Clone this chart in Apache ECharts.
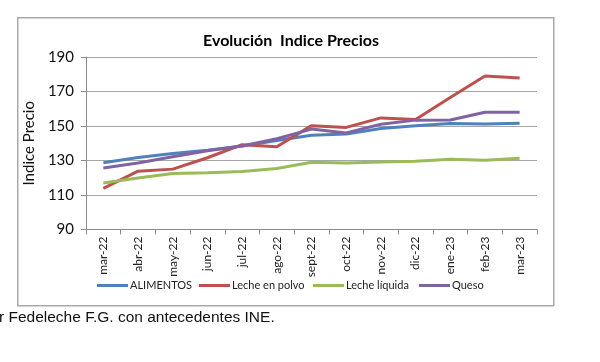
<!DOCTYPE html>
<html>
<head>
<meta charset="utf-8">
<script src="https://cdn.jsdelivr.net/npm/echarts@6/dist/echarts.min.js"></script>
<style>html,body{margin:0;padding:0;background:#fff;}#c{width:600px;height:362px;}</style>
</head>
<body>
<div id="c"></div>
<script>
var categories = ['mar-22','abr-22','may-22','jun-22','jul-22','ago-22','sept-22','oct-22','nov-22','dic-22','ene-23','feb-23','mar-23'];
var alimentos = [128.7,131.7,134.0,136.0,138.4,141.6,144.7,145.3,148.6,150.1,151.4,151.1,151.6];
var lechePolvo = [113.8,123.8,125.0,131.6,139.2,138.0,150.2,149.2,154.7,153.8,166.5,179.0,177.8];
var lecheLiquida = [117.0,119.8,122.5,122.9,123.6,125.4,129.0,128.6,129.2,129.6,130.7,130.2,131.3];
var queso = [125.7,128.6,132.2,135.7,138.4,142.6,148.2,146.0,151.0,153.4,153.5,158.0,158.0];
var yTicks = [90,110,130,150,170,190];

var names = ['ALIMENTOS','Leche en polvo','Leche líquida','Queso'];
var colors = ['#4F81BD','#C0504D','#9BBB59','#8064A2'];
var dataSets = [alimentos, lechePolvo, lecheLiquida, queso];
var legendLeft = [97, 199, 313, 419];
var font = 'Lato, "Open Sans", sans-serif';

var chart = echarts.init(document.getElementById('c'), null, {renderer:'canvas'});
var option = {
  backgroundColor: '#fff',
  animation: false,
  title: {
    text: 'Evolución  Indice Precios',
    left: 286, top: 28, textAlign: 'center',
    textStyle: {fontFamily: font, fontSize: 16, fontWeight: 'bold', color: '#000'}
  },
  legend: names.map(function(n, i){
    return {
      data: [n], left: legendLeft[i], top: 280, padding: 0,
      itemWidth: 31, itemHeight: 3, itemGap: 0,
      icon: 'rect',
      textStyle: {fontFamily: font, fontSize: 11, color: '#222', padding:[0,0,0,-3]}
    };
  }),
  grid: {left: 86, right: 63, top: 57, bottom: 132.5, containLabel: false},
  xAxis: {
    type: 'category', data: categories, boundaryGap: true,
    axisLine: {lineStyle: {color: '#8c8c8c', width: 1}},
    axisTick: {show: true, length: 5, lineStyle: {color: '#8c8c8c'}},
    axisLabel: {rotate: 90, fontFamily: font, fontSize: 12, color: '#222', margin: 7}
  },
  yAxis: {
    type: 'value', min: 90, max: 190, interval: 20,
    name: 'Indice Precio', nameLocation: 'middle', nameGap: 45, nameRotate: 90,
    nameTextStyle: {fontFamily: font, fontSize: 15, color: '#111'},
    axisLine: {show: true, lineStyle: {color: '#8c8c8c'}},
    axisTick: {show: true, length: 5, lineStyle: {color: '#8c8c8c'}},
    axisLabel: {fontFamily: font, fontSize: 15, color: '#111', margin: 12,
      formatter: function(v){ return yTicks.indexOf(v) >= 0 ? String(v) : ''; }},
    splitLine: {lineStyle: {color: '#a6a6a6', width: 1}}
  },
  series: dataSets.map(function(d, i){
    return {
      name: names[i], type: 'line', data: d, showSymbol: false, symbol: 'none',
      lineStyle: {color: colors[i], width: 3}, itemStyle: {color: colors[i]}
    };
  }),
  graphic: {
    elements: [
      {type: 'rect', left: 17, top: 17, z: 100, silent: true,
       shape: {width: 536, height: 288},
       style: {fill: 'rgba(0,0,0,0)', stroke: '#a9a9a9', lineWidth: 1.5}},
      {type: 'text', left: -1, top: 310,
       style: {text: 'r Fedeleche F.G. con antecedentes INE.', fontFamily: '"Liberation Sans", Arial, sans-serif', fontSize: 15.5, fill: '#111'}}
    ]
  }
};
chart.setOption(option);
</script>
</body>
</html>
